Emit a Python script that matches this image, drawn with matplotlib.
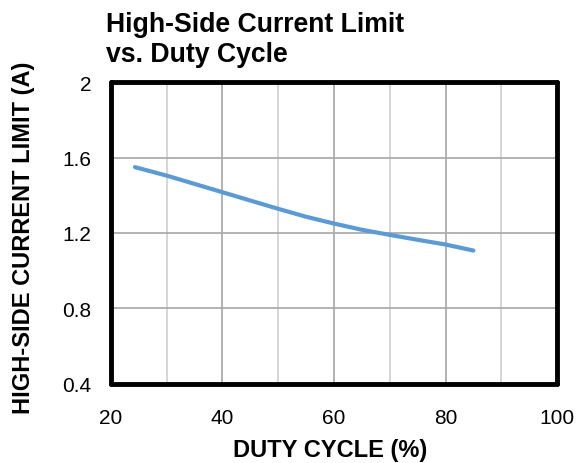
import matplotlib
matplotlib.use("Agg")
import matplotlib.pyplot as plt
from matplotlib.ticker import MultipleLocator

plt.rcParams['font.family'] = ['Liberation Sans', 'DejaVu Sans']

duty = [24.3, 30, 40, 50, 55, 60, 65, 70, 75, 80, 85]
current = [1.549, 1.504, 1.416, 1.328, 1.286, 1.250, 1.217, 1.190, 1.164, 1.139, 1.107]
xticks = [20, 40, 60, 80, 100]
yticks = [0.4, 0.8, 1.2, 1.6, 2.0]
ytick_labels = ["0.4", "0.8", "1.2", "1.6", "2"]

fig = plt.figure(figsize=(5.78, 4.64), dpi=100)
ax = fig.add_axes([0.192, 0.1703, 0.7717, 0.6508])

ax.plot(duty, current, color='#5B9BD5', linewidth=3, solid_capstyle='round',
        solid_joinstyle='round', zorder=3)

ax.set_xlim(20, 100)
ax.set_ylim(0.4, 2.0)
ax.set_xticks(xticks)
ax.set_yticks(yticks)
ax.set_yticklabels(ytick_labels)
ax.xaxis.set_minor_locator(MultipleLocator(10))

ax.grid(which='major', color='#A6A6A6', linewidth=1.2)
ax.grid(which='minor', axis='x', color='#D0D0D0', linewidth=1.2)
ax.set_axisbelow(True)

ax.tick_params(which='both', length=0, labelsize=15)
ax.tick_params(axis='x', pad=17)
ax.tick_params(axis='y', pad=14)
for s in ax.spines.values():
    s.set_linewidth(3.5)
    s.set_color('black')
    s.set_capstyle('round')
    s.set_joinstyle('round')

ax.set_xlabel("DUTY CYCLE (%)", fontsize=17, fontweight='bold', va='top')
ax.xaxis.set_label_coords(0.491, -0.178)
ax.set_ylabel("HIGH-SIDE CURRENT LIMIT (A)", fontsize=17, fontweight='bold')
ax.yaxis.set_label_coords(-0.171, 0.487)

fig.text(0.183, 0.974, "High-Side Current Limit\nvs. Duty Cycle", fontsize=19.2,
         fontweight='bold', ha='left', va='top', linespacing=1.2)

fig.savefig("out.png", dpi=100)
